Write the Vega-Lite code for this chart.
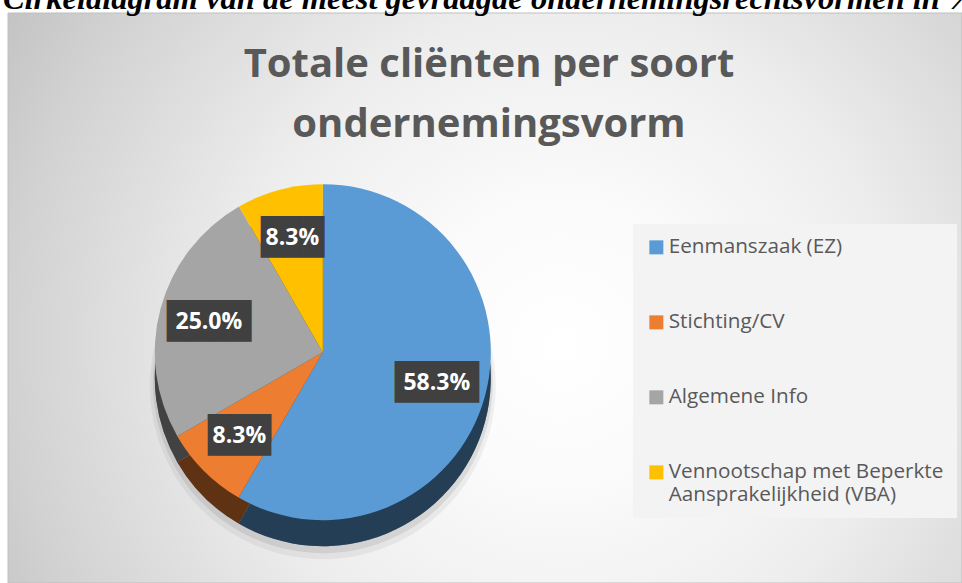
{
  "$schema": "https://vega.github.io/schema/vega-lite/v6.json",
  "width": 954,
  "height": 570,
  "autosize": {"type": "none"},
  "padding": {"left": 8, "top": 13, "right": 0, "bottom": 0},
  "background": "#ffffff",
  "title": {
    "text": "Cirkeldiagram van de meest gevraagde ondernemingsrechtsvormen in %",
    "subtitle": ["Totale cliënten per soort", "ondernemingsvorm"],
    "font": "Liberation Serif",
    "fontSize": 32.5,
    "fontWeight": "bold",
    "fontStyle": "italic",
    "color": "#000000",
    "subtitleFont": "Open Sans",
    "subtitleFontSize": 40,
    "subtitleFontWeight": "bold",
    "subtitleColor": "#595959",
    "subtitleLineHeight": 60,
    "subtitlePadding": 29,
    "anchor": "middle",
    "dx": 4,
    "offset": -132
  },
  "layer": [
    {
      "data": {"values": [{"bg": 1}]},
      "mark": {
        "type": "rect",
        "stroke": "#bfbfbf",
        "strokeWidth": 1,
        "fill": {
          "gradient": "radial",
          "x1": 0.58, "y1": 0.547, "r1": 0,
          "x2": 0.58, "y2": 0.547, "r2": 0.7,
          "stops": [
            {"offset": 0, "color": "#ffffff"},
            {"offset": 0.2, "color": "#fbfbfb"},
            {"offset": 0.48, "color": "#eeeeee"},
            {"offset": 0.82, "color": "#d2d2d2"},
            {"offset": 1, "color": "#c0c0c0"}
          ]
        }
      },
      "encoding": {
        "x": {"value": 0},
        "x2": {"value": "width"},
        "y": {"value": 0},
        "y2": {"value": "height"}
      }
    },
    {
      "data": {"name": "pie"},
      "layer": [
        {
          "mark": {"type": "arc", "outerRadius": 173, "x": {"expr": "width*0.33"}, "y": {"expr": "height*0.595"}, "yOffset": 34, "fill": "#000000", "fillOpacity": 0.05},
          "encoding": {"color": {"value": "#000000"}}
        },
        {
          "mark": {"type": "arc", "outerRadius": 170, "x": {"expr": "width*0.33"}, "y": {"expr": "height*0.595"}, "yOffset": 31, "fill": "#000000", "fillOpacity": 0.08},
          "encoding": {"color": {"value": "#000000"}}
        },
        {
          "mark": {"type": "arc", "outerRadius": 168, "x": {"expr": "width*0.33"}, "y": {"expr": "height*0.595"}, "yOffset": 26, "fill": "#000000"},
          "encoding": {"color": {"value": "#000000"}}
        },
        {
          "mark": {"type": "arc", "outerRadius": 168, "x": {"expr": "width*0.33"}, "y": {"expr": "height*0.595"}, "yOffset": 26, "fillOpacity": 0.4},
          "encoding": {
            "color": {"field": "cat", "type": "nominal"}
          }
        },
        {
          "mark": {"type": "arc", "outerRadius": 168, "x": {"expr": "width*0.33"}, "y": {"expr": "height*0.595"}},
          "encoding": {
            "color": {"field": "cat", "type": "nominal"}
          }
        },
        {
          "mark": {"type": "text", "radius": 118, "x": {"expr": "width*0.33"}, "y": {"expr": "height*0.595"}, "font": "DejaVu Sans Mono", "fontSize": 35, "baseline": "middle", "align": "center"},
          "encoding": {"text": {"field": "box"}, "color": {"value": "#404040"}}
        },
        {
          "mark": {"type": "text", "radius": 118, "x": {"expr": "width*0.33"}, "y": {"expr": "height*0.595"}, "font": "Open Sans", "fontWeight": "bold", "fontSize": 23, "baseline": "middle", "align": "center"},
          "encoding": {"text": {"field": "lab"}, "color": {"value": "#ffffff"}}
        }
      ],
      "transform": [
        {"calculate": "format(datum.pct, '.1f') + '%'", "as": "lab"},
        {"calculate": "length(datum.lab) > 4 ? '████' : '███'", "as": "box"}
      ],
      "encoding": {
        "theta": {"field": "pct", "type": "quantitative", "stack": true},
        "order": {"field": "order", "type": "quantitative"},
        "color": {
          "field": "cat",
          "type": "nominal",
          "scale": {
            "domain": ["Eenmanszaak (EZ)", "Stichting/CV", "Algemene Info", "Vennootschap met Beperkte Aansprakelijkheid (VBA)"],
            "range": ["#5B9BD5", "#ED7D31", "#A5A5A5", "#FFC000"]
          },
          "legend": {
            "title": null,
            "orient": "none",
            "legendX": 625,
            "legendY": 211,
            "fillColor": "#f3f3f3",
            "padding": 13,
            "symbolType": "square",
            "symbolSize": 196,
            "symbolStrokeWidth": 0,
            "symbolOpacity": 1,
            "labelFont": "Open Sans",
            "labelFontSize": 20.7,
            "labelColor": "#595959",
            "labelLimit": 400,
            "rowPadding": 53,
            "labelOffset": 2,
            "labelExpr": "datum.label == 'Vennootschap met Beperkte Aansprakelijkheid (VBA)' ? ['Vennootschap met Beperkte', 'Aansprakelijkheid (VBA)'] : datum.label"
          }
        }
      }
    }
  ],
  "datasets": {
    "pie": [
      {"cat": "Eenmanszaak (EZ)", "pct": 58.3, "order": 1},
      {"cat": "Stichting/CV", "pct": 8.3, "order": 2},
      {"cat": "Algemene Info", "pct": 25.0, "order": 3},
      {"cat": "Vennootschap met Beperkte Aansprakelijkheid (VBA)", "pct": 8.3, "order": 4}
    ]
  },
  "config": {
    "view": {"stroke": null}
  }
}
